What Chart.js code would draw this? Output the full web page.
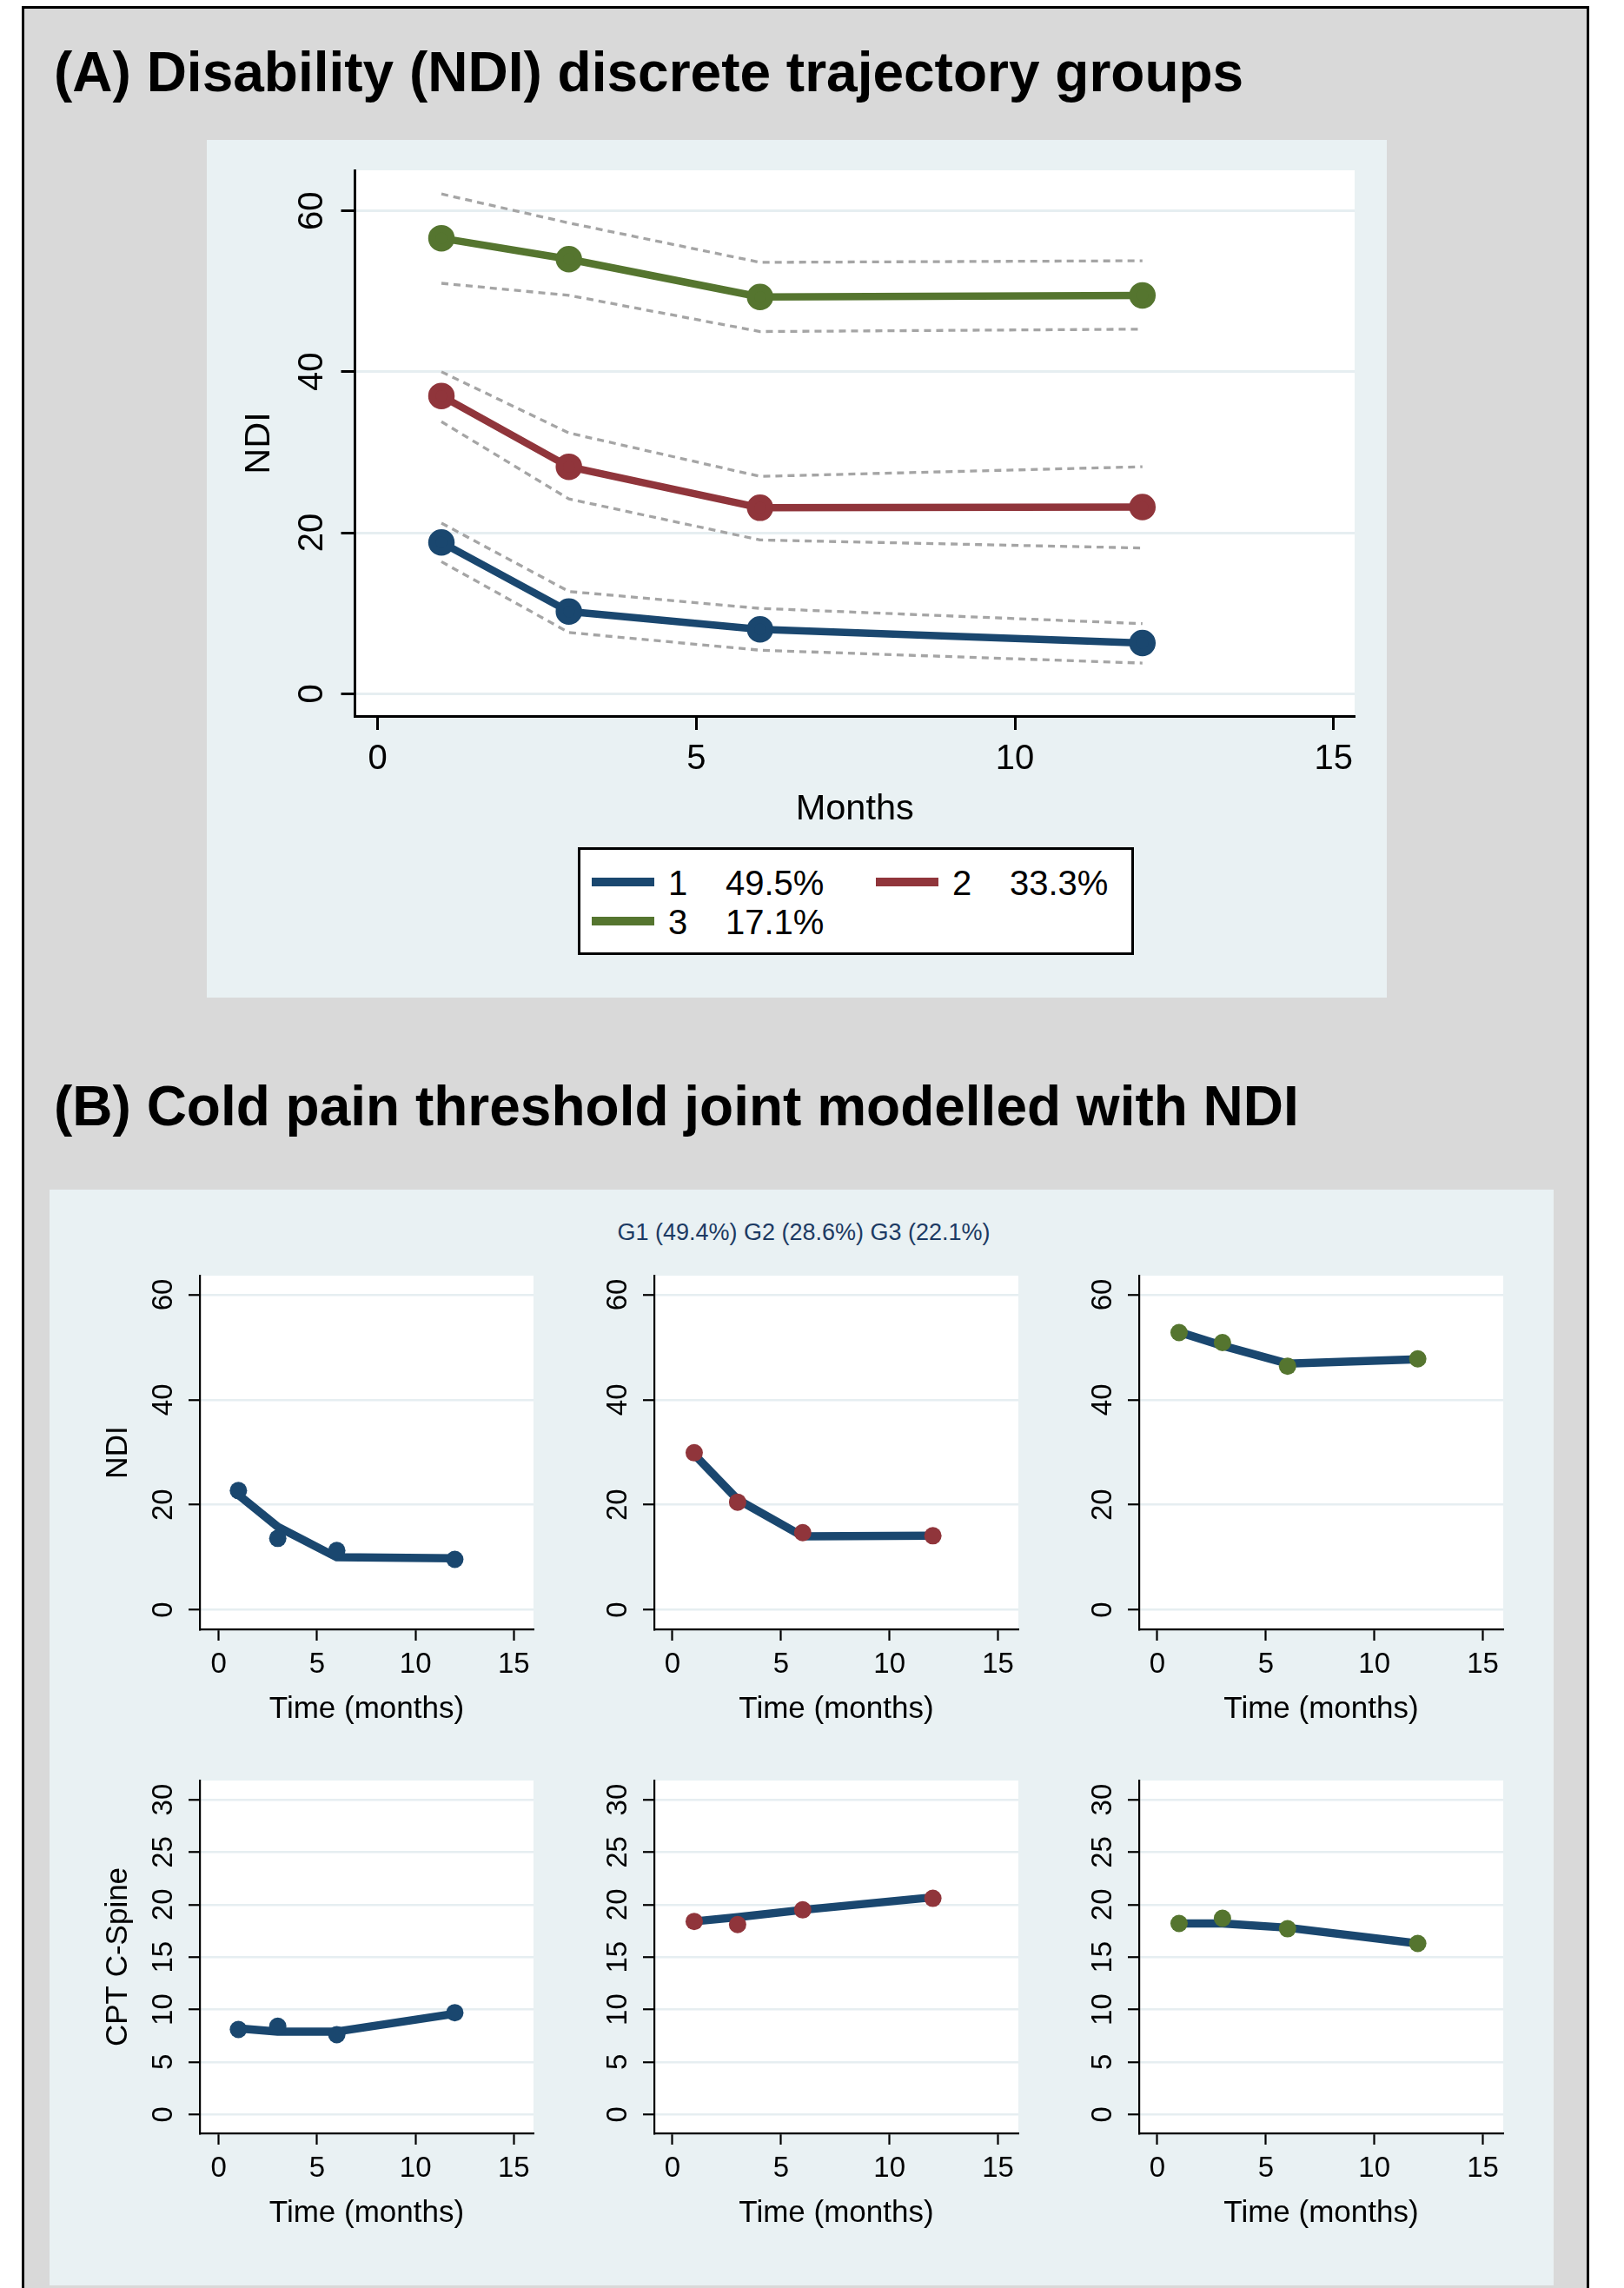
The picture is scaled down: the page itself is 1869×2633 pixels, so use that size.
<!DOCTYPE html>
<html>
<head>
<meta charset="utf-8">
<script src="https://cdn.jsdelivr.net/npm/chart.js@4.4.1/dist/chart.umd.min.js"></script>
<style>
  body { margin: 0; background: #fff; font-family: "Liberation Sans", Arial, sans-serif; }
  #page { position: relative; width: 1869px; height: 2633px; overflow: hidden; }
  .abs { position: absolute; }
  .frame { left: 25px; top: 7px; width: 1798px; height: 2700px; border: 3px solid #000; background: #d9d9d9; }
  .bg { background: #e9f1f3; }
  .title { font-weight: bold; font-size: 64px; line-height: 64px; color: #000; white-space: nowrap; }
  .sub { font-size: 27px; line-height: 27px; color: #1c3a63; white-space: pre; transform: translateX(-50%); }
  .legend { left: 665px; top: 975px; width: 634px; height: 118px; border: 3px solid #000; background: #fff; }
  .key { height: 10px; width: 72px; }
  .lt { font-size: 40px; line-height: 40px; color: #000; white-space: nowrap; }
  canvas { position: absolute; }
</style>
</head>
<body>
<div id="page">
  <div class="abs frame"></div>
  <div class="abs title" style="left:62px; top:51px;">(A) Disability (NDI) discrete trajectory groups</div>
  <div class="abs bg" style="left:238px; top:161px; width:1358px; height:987px;"></div>
  <div class="abs title" style="left:62px; top:1241px;">(B) Cold pain threshold joint modelled with NDI</div>
  <div class="abs bg" style="left:57px; top:1369px; width:1731px; height:1261px;"></div>
  <div class="abs sub" id="subtitle" style="left:925px; top:1405px;"></div>

  <canvas id="chartA"></canvas>
  <canvas id="b1"></canvas>
  <canvas id="b2"></canvas>
  <canvas id="b3"></canvas>
  <canvas id="b4"></canvas>
  <canvas id="b5"></canvas>
  <canvas id="b6"></canvas>

  <div class="abs legend"></div>
  <div id="legendItems"></div>
</div>

<script>
// ---- data ----
const months = [1, 3, 6, 12];
const xTickValues = [0, 5, 10, 15];
const ndiTickValues = [0, 20, 40, 60];
const cptTickValues = [0, 5, 10, 15, 20, 25, 30];

// (A) trajectory groups: mean NDI and dashed confidence bands
const groupNames = ['1', '2', '3'];
const groupShares = ['49.5%', '33.3%', '17.1%'];
const g1Mean = [18.8, 10.2, 8.0, 6.3];
const g1Upper = [21.2, 12.7, 10.6, 8.7];
const g1Lower = [16.4, 7.6, 5.4, 3.8];
const g2Mean = [37.0, 28.2, 23.1, 23.2];
const g2Upper = [40.0, 32.4, 27.0, 28.2];
const g2Lower = [33.8, 24.2, 19.1, 18.1];
const g3Mean = [56.6, 54.0, 49.3, 49.5];
const g3Upper = [62.1, 58.5, 53.6, 53.8];
const g3Lower = [51.0, 49.5, 45.0, 45.3];

// (B) joint model: observed means (dots) and fitted trajectory (line)
const jointGroups = ['G1 (49.4%)', 'G2 (28.6%)', 'G3 (22.1%)'];
const ndiObsG1 = [22.7, 13.6, 11.3, 9.6];
const ndiFitG1 = [21.9, 15.8, 10.0, 9.8];
const ndiObsG2 = [29.9, 20.5, 14.7, 14.1];
const ndiFitG2 = [29.6, 21.0, 14.0, 14.1];
const ndiObsG3 = [52.8, 50.9, 46.4, 47.8];
const ndiFitG3 = [52.9, 50.3, 46.9, 47.7];
const cptObsG1 = [8.1, 8.4, 7.6, 9.7];
const cptFitG1 = [8.2, 7.9, 7.9, 9.6];
const cptObsG2 = [18.4, 18.1, 19.5, 20.6];
const cptFitG2 = [18.4, 18.8, 19.5, 20.7];
const cptObsG3 = [18.2, 18.7, 17.7, 16.3];
const cptFitG3 = [18.2, 18.2, 17.8, 16.3];

// ---- styling ----
const NAVY = '#1a476f';
const MAROON = '#90353b';
const GREEN = '#55752f';
const BAND = '#a5a5a5';
const GRID = '#e6eef1';
const FONT = '"Liberation Sans", Arial, sans-serif';

document.getElementById('subtitle').textContent = jointGroups.join(' ');

function pts(ys) {
  return months.map((m, i) => ({x: m, y: ys[i]}));
}

const whiteArea = {
  id: 'whiteArea',
  beforeDraw(chart) {
    const {ctx, chartArea: a} = chart;
    ctx.save();
    ctx.fillStyle = '#fff';
    ctx.fillRect(a.left, a.top, a.right - a.left, a.bottom - a.top);
    ctx.restore();
  }
};

// rect: canvas box on the page, area: wanted plot box on the page
function makeChart(id, rect, area, s) {
  const cv = document.getElementById(id);
  cv.width = rect[2] - rect[0];
  cv.height = rect[3] - rect[1];
  cv.style.left = rect[0] + 'px';
  cv.style.top = rect[1] + 'px';
  const lh = s.titleSize * 1.2;
  const font = {family: FONT, size: s.fontSize};
  const tFont = {family: FONT, size: s.titleSize};
  return new Chart(cv, {
    type: 'line',
    data: {datasets: s.datasets},
    options: {
      responsive: false,
      animation: false,
      devicePixelRatio: 1,
      events: [],
      layout: {padding: {left: 0, top: area[1] - rect[1], right: rect[2] - area[2], bottom: 0}},
      plugins: {legend: {display: false}, tooltip: {enabled: false}},
      elements: {line: {tension: 0, borderJoinStyle: 'round', borderCapStyle: 'butt'}, point: {borderWidth: 0}},
      scales: {
        x: {
          type: 'linear',
          min: s.xRange[0],
          max: s.xRange[1],
          afterFit: sc => { sc.height = rect[3] - area[3]; },
          afterBuildTicks: sc => { sc.ticks = xTickValues.map(v => ({value: v})); },
          grid: {drawOnChartArea: false, tickLength: s.tickLen, tickWidth: s.axisW, tickColor: '#000'},
          border: {color: '#000', width: s.axisW},
          ticks: {color: '#000', font, padding: s.xPad, maxRotation: 0, autoSkip: false, callback: v => String(v)},
          title: {
            display: true, text: s.xTitle, color: '#000', font: tFont,
            padding: {top: 0, bottom: rect[3] - s.xTitleY - lh / 2}
          }
        },
        y: {
          type: 'linear',
          min: s.yRange[0],
          max: s.yRange[1],
          afterFit: sc => { sc.width = area[0] - rect[0]; },
          afterBuildTicks: sc => { sc.ticks = s.yTicks.map(v => ({value: v})); },
          grid: {color: GRID, lineWidth: s.gridW, tickLength: s.tickLen, tickWidth: s.axisW, tickColor: '#000'},
          border: {color: '#000', width: s.axisW},
          ticks: {
            color: '#000', font, padding: s.yPad, minRotation: 90, maxRotation: 90,
            crossAlign: 'center', autoSkip: false, callback: v => String(v)
          },
          title: {
            display: !!s.yTitle, text: s.yTitle || '', color: '#000', font: tFont,
            padding: {top: s.yTitleX ? s.yTitleX - rect[0] - lh / 2 : 0, bottom: 0}
          }
        }
      }
    },
    plugins: [whiteArea]
  });
}

// ---- (A) ----
function meanLine(ys, color) {
  return {data: pts(ys), borderColor: color, backgroundColor: color, borderWidth: 8.5,
    pointRadius: 11, pointBackgroundColor: color};
}
function bandLine(ys) {
  return {data: pts(ys), borderColor: BAND, borderWidth: 3.3, borderDash: [8, 6], pointRadius: 0};
}
const groupColors = [NAVY, MAROON, GREEN];

makeChart('chartA', [238, 161, 1596, 1148], [408.5, 196, 1559, 824], {
  fontSize: 40, titleSize: 41.5, tickLen: 16, axisW: 3, gridW: 3, xPad: 9.5, yPad: 10.6,
  xRange: [-0.357, 15.33], yRange: [-2.78, 65.04], yTicks: ndiTickValues,
  xTitle: 'Months', xTitleY: 932, yTitle: 'NDI', yTitleX: 298.7,
  datasets: [
    meanLine(g1Mean, NAVY), meanLine(g2Mean, MAROON), meanLine(g3Mean, GREEN),
    bandLine(g1Upper), bandLine(g1Lower), bandLine(g2Upper), bandLine(g2Lower),
    bandLine(g3Upper), bandLine(g3Lower)
  ]
});

// legend of (A)
const legendRows = [[681, 1015], [1008, 1015], [681, 1060]];
const legendHost = document.getElementById('legendItems');
groupNames.forEach((name, i) => {
  const [lx, cy] = legendRows[i];
  const key = document.createElement('div');
  key.className = 'abs key';
  key.style.cssText = `left:${lx}px; top:${cy - 5}px; background:${groupColors[i]};`;
  const num = document.createElement('div');
  num.className = 'abs lt';
  num.style.cssText = `left:${lx + 88}px; top:${cy - 19.5}px;`;
  num.textContent = name;
  const pct = document.createElement('div');
  pct.className = 'abs lt';
  pct.style.cssText = `left:${lx + 154}px; top:${cy - 19.5}px;`;
  pct.textContent = groupShares[i];
  legendHost.append(key, num, pct);
});

// ---- (B) ----
function fitLine(ys) {
  return {data: pts(ys), borderColor: NAVY, borderWidth: 9.5, pointRadius: 0};
}
function obsDots(ys, color) {
  return {data: pts(ys), showLine: false, pointRadius: 10, pointBackgroundColor: color,
    backgroundColor: color, borderColor: color};
}

const cols = [
  {left: 229.5, right: 613.7, xRange: [-0.96, 16.0]},
  {left: 753, right: 1172, xRange: [-0.84, 15.94]},
  {left: 1311, right: 1730, xRange: [-0.84, 15.94]}
];
const rows = [
  {top: 1467.7, bottom: 1875, yRange: [-3.72, 63.64], yTicks: ndiTickValues, yTitle: 'NDI',
    obs: [ndiObsG1, ndiObsG2, ndiObsG3], fit: [ndiFitG1, ndiFitG2, ndiFitG3]},
  {top: 2049.3, bottom: 2456, yRange: [-1.8, 31.83], yTicks: cptTickValues, yTitle: 'CPT C-Spine',
    obs: [cptObsG1, cptObsG2, cptObsG3], fit: [cptFitG1, cptFitG2, cptFitG3]}
];
const dotColors = [NAVY, MAROON, GREEN];

rows.forEach((r, ri) => {
  cols.forEach((c, ci) => {
    const rect = [c.left - 175, r.top - 60, c.right + 20, r.bottom + 120];
    makeChart('b' + (ri * 3 + ci + 1), rect, [c.left, r.top, c.right, r.bottom], {
      fontSize: 33, titleSize: 35, tickLen: 13, axisW: 2.2, gridW: 2.5, xPad: 7.9, yPad: 9.6,
      xRange: c.xRange, yRange: r.yRange, yTicks: r.yTicks,
      xTitle: 'Time (months)', xTitleY: r.bottom + 92,
      yTitle: ci === 0 ? r.yTitle : '', yTitleX: ci === 0 ? 136 : 0,
      datasets: [obsDots(r.obs[ci], dotColors[ci]), fitLine(r.fit[ci])]
    });
  });
});
</script>
</body>
</html>
